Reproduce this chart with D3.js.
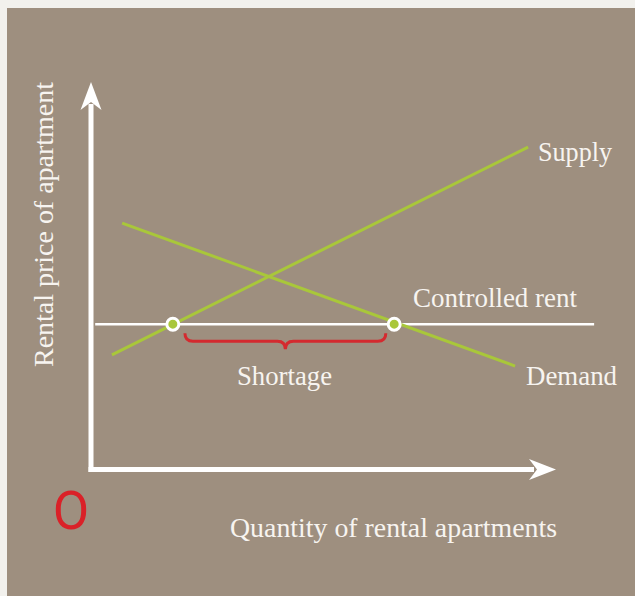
<!DOCTYPE html>
<html lang="en">
<head>
    <meta charset="UTF-8">
    <title>Rent control shortage</title>
    <script src="https://d3js.org/d3.v7.min.js"></script>
    <style>
        body {
            margin: 0;
            background: #f2f1ed;
        }

        svg {
            display: block;
        }

        text.label {
            font-family: "Liberation Serif", serif;
            font-size: 27px;
            fill: #f7f4f0;
        }
    </style>
</head>
<body>

    <div id="container"></div>

    <script>

        // curve end points (quantity, price), both on a 0-100 scale
        const supply = [[4.5, 29.6], [94.0, 83.2]];
        const demand = [[6.7, 63.6], [91.2, 26.7]];

        // price ceiling and how far its line runs
        const controlledRent = 37.5;
        const rentRange = [0.9, 108.2];

        // quantity supplied / demanded at the controlled rent
        const shortageQ = [17.6, 65.2];
        const braceQ = [20.2, 63.4];

        const curveLabels = ['Supply', 'Demand', 'Controlled rent', 'Shortage'];
        const axisLabels = ['Quantity of rental apartments', 'Rental price of apartment'];
        const originLabel = 'O';

        const width = 635;
        const height = 596;

        const svg = d3.select('#container').append('svg')
            .attr('width', width)
            .attr('height', height);

        // panel
        svg.append('rect')
            .attr('x', 7)
            .attr('y', 8)
            .attr('width', width - 7)
            .attr('height', height - 8)
            .attr('fill', '#9e8f7f');

        // scales
        const x = d3.scaleLinear().domain([0, 100]).range([91, 556]);
        const y = d3.scaleLinear().domain([0, 100]).range([469.5, 82]);

        const green = '#a9c73a';
        const white = '#ffffff';

        // axes with arrow heads
        const x0 = x(0), y0 = y(0);
        const xTip = x(100), yTip = y(100);

        svg.append('line')
            .attr('x1', x0).attr('y1', y0 + 2.5)
            .attr('x2', x0).attr('y2', yTip + 22)
            .attr('stroke', white).attr('stroke-width', 5);

        svg.append('line')
            .attr('x1', x0 - 2.5).attr('y1', y0)
            .attr('x2', xTip - 22).attr('y2', y0)
            .attr('stroke', white).attr('stroke-width', 5);

        svg.append('path')
            .attr('d', `M${x0},${yTip} L${x0 + 10.5},${yTip + 28} L${x0},${yTip + 20} L${x0 - 10.5},${yTip + 28} Z`)
            .attr('fill', white);

        svg.append('path')
            .attr('d', `M${xTip},${y0} L${xTip - 27},${y0 - 10.5} L${xTip - 19},${y0} L${xTip - 27},${y0 + 10.5} Z`)
            .attr('fill', white);

        const line = d3.line()
            .x(d => x(d[0]))
            .y(d => y(d[1]));

        // controlled rent line
        svg.append('path')
            .attr('d', line(rentRange.map(q => [q, controlledRent])))
            .attr('stroke', white)
            .attr('stroke-width', 2.5)
            .attr('fill', 'none');

        // supply and demand
        svg.selectAll('.curve')
            .data([supply, demand])
            .enter()
            .append('path')
            .attr('class', 'curve')
            .attr('d', d => line(d))
            .attr('stroke', green)
            .attr('stroke-width', 3)
            .attr('fill', 'none');

        // brace under the shortage
        const bx1 = x(braceQ[0]);
        const bx2 = x(braceQ[1]);
        const bm = (bx1 + bx2) / 2;
        const by = y(controlledRent);
        svg.append('path')
            .attr('d', `M${bx1},${by + 9} Q${bx1},${by + 17} ${bx1 + 8},${by + 17}` +
                ` L${bm - 8},${by + 17} Q${bm},${by + 17} ${bm},${by + 25}` +
                ` Q${bm},${by + 17} ${bm + 8},${by + 17}` +
                ` L${bx2 - 8},${by + 17} Q${bx2},${by + 17} ${bx2},${by + 9}`)
            .attr('stroke', '#d42a2f')
            .attr('stroke-width', 3)
            .attr('fill', 'none');

        // intersection dots
        svg.selectAll('.dot')
            .data(shortageQ)
            .enter()
            .append('circle')
            .attr('class', 'dot')
            .attr('cx', d => x(d))
            .attr('cy', y(controlledRent))
            .attr('r', 6)
            .attr('fill', green)
            .attr('stroke', white)
            .attr('stroke-width', 3);

        // labels
        const labelPos = [
            { x: 538, y: 161, w: 74 },
            { x: 526, y: 385, w: 91 },
            { x: 413, y: 307, w: 164 },
            { x: 237, y: 385, w: 95 }
        ];

        svg.selectAll('.curveLabel')
            .data(curveLabels)
            .enter()
            .append('text')
            .attr('class', 'label curveLabel')
            .attr('x', (d, i) => labelPos[i].x)
            .attr('y', (d, i) => labelPos[i].y)
            .attr('textLength', (d, i) => labelPos[i].w)
            .attr('lengthAdjust', 'spacingAndGlyphs')
            .text(d => d);

        svg.append('text')
            .attr('class', 'label')
            .attr('x', 230)
            .attr('y', 537)
            .attr('textLength', 327)
            .attr('lengthAdjust', 'spacingAndGlyphs')
            .text(axisLabels[0]);

        svg.append('text')
            .attr('class', 'label')
            .attr('transform', 'translate(53,367) rotate(-90)')
            .attr('textLength', 285)
            .attr('lengthAdjust', 'spacingAndGlyphs')
            .text(axisLabels[1]);

        svg.append('text')
            .attr('x', 71)
            .attr('y', 529)
            .attr('text-anchor', 'middle')
            .attr('font-family', 'Roboto, sans-serif')
            .attr('font-size', 53)
            .attr('fill', '#da2128')
            .text(originLabel);

    </script>

</body>
</html>
